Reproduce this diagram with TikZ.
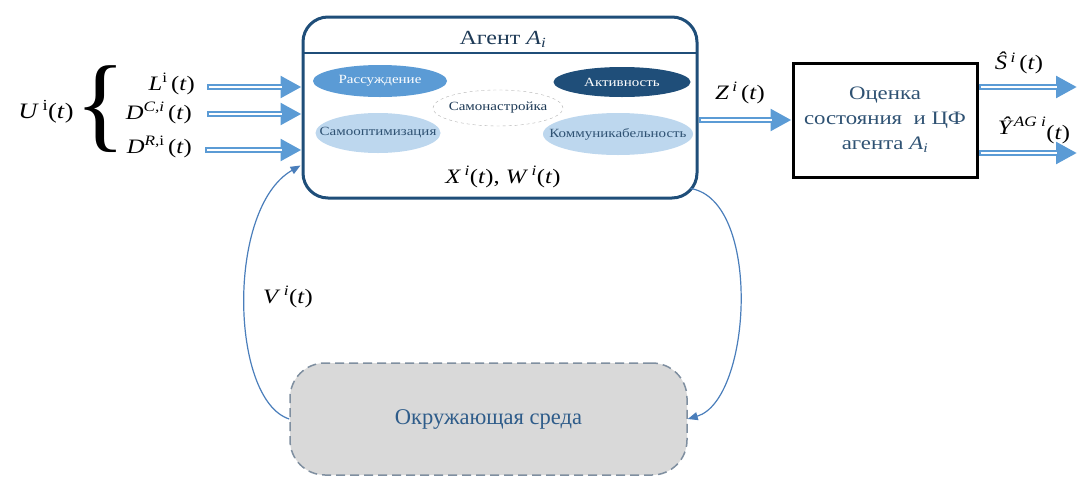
\documentclass[tikz,border=0pt]{standalone}
\usepackage{fontspec}
\setmainfont{Liberation Serif}
\newfontfamily\wideserif{Liberation Serif}[FakeStretch=1.2]
\usetikzlibrary{arrows.meta,decorations.pathreplacing,shapes.geometric,calc}
\definecolor{dkblue}{HTML}{1F4E79}
\definecolor{midblue}{HTML}{5B9BD5}
\definecolor{ltblue}{HTML}{BDD7EE}
\definecolor{arrblue}{HTML}{5B9BD5}
\definecolor{txtblue}{HTML}{2F5273}
\definecolor{hdtext}{HTML}{1F3B57}
\definecolor{envfill}{HTML}{D9D9D9}
\definecolor{envline}{HTML}{7F8FA0}
\definecolor{envtext}{HTML}{2E5C8A}
\definecolor{fbblue}{HTML}{4A7EBB}
\newcommand\dblarrow[2]{%
  \draw[dblout] (#1) -- (#2);
  \draw[dblin] (#1) -- (#2);}
\newcommand\mlabel{\wideserif\fontsize{20.5}{24}\selectfont}
\newcommand\ovtext[1]{\makebox[0pt]{#1}}
\begin{document}
\begin{tikzpicture}[x=1pt,y=-1pt,
  dblout/.style={draw=arrblue, line width=6.5pt, -{Triangle[length=21pt,width=21pt]}},
  dblin/.style={draw=white, line width=2.2pt, shorten >=20pt, shorten <=2.2pt},
  oval/.style={ellipse, inner sep=0pt, font=\wideserif\fontsize{12.5}{14}\selectfont},
  fb/.style={draw=fbblue, line width=1.2pt, -{Triangle[length=10pt,width=8pt]}},
  lbl/.style={inner sep=0pt, font=\mlabel}]
\useasboundingbox (0,0) rectangle (1090,488);

% agent box
\node[draw=dkblue, line width=3pt, rounded corners=25pt,
      minimum width=394pt, minimum height=181pt] (agent) at (500,107.5) {};
\draw[dkblue, line width=1.5pt] (303,53) -- (697,53);
\node[text=hdtext, font=\wideserif\fontsize{20}{22}\selectfont, inner sep=0pt] (title) at (503,39)
  {Агент \textit{A}\textsubscript{\textit{i}}};

% ellipses
\node[oval, fill=midblue, text=white, minimum width=134pt, minimum height=32pt] (rass) at (380,81) {\ovtext{Рассуждение}};
\node[oval, fill=dkblue, text=white, minimum width=137pt, minimum height=30pt] (akt) at (622,82) {\ovtext{Активность}};
\node[oval, draw=gray!60, dashed, fill=white, text=hdtext, minimum width=130pt, minimum height=36pt] (samon) at (498,108) {\ovtext{Самонастройка}};
\node[oval, fill=ltblue, text=txtblue, minimum width=125pt, minimum height=40pt] (samoopt) at (378,133) {\ovtext{Самооптимизация}};
\node[oval, fill=ltblue, text=txtblue, minimum width=150pt, minimum height=42pt] (komm) at (618,134) {\ovtext{Коммуникабельность}};

\node[lbl] (xw) at (503,177) {\textit{X}\,\textsuperscript{\textit{i}}(\textit{t}), \textit{W}\,\textsuperscript{\textit{i}}(\textit{t})};

% inputs
\node[lbl, anchor=east] (Lt) at (195,84) {\textit{L}\textsuperscript{i}\,(\textit{t})};
\node[lbl, anchor=east] (Dc) at (192,113) {\textit{D}\textsuperscript{\textit{C,i}}\,(\textit{t})};
\node[lbl, anchor=east] (Dr) at (192,147) {\textit{D}\textsuperscript{\textit{R,}i}\,(\textit{t})};
\node[lbl] (Ut) at (46,112) {\fontsize{22}{26}\selectfont\textit{U}\,\textsuperscript{i}(\textit{t})};
\node[inner sep=0pt, font=\fontsize{105}{105}\selectfont] (brace) at (101,109) {\makebox[18pt]{\{}};
\coordinate (inL) at (207,87);
\coordinate (inC) at (207,114);
\coordinate (inR) at (205,150);
\dblarrow{inL}{inL -| agent.west}
\dblarrow{inC}{inC -| agent.west}
\dblarrow{inR}{inR -| agent.west}

% evaluation box
\node[draw=black, line width=3pt, minimum width=184pt, minimum height=114pt,
      align=center, text=txtblue, font=\wideserif\fontsize{19}{25}\selectfont] (eval) at (885,120)
  {Оценка\\состояния\ \ и ЦФ\\агента \textit{A}\textsubscript{\textit{i}}};
\dblarrow{agent.east |- eval.west}{eval.west}
\node[lbl] (Zt) at (740,93) {\textit{Z}\,\textsuperscript{\textit{i}}\,(\textit{t})};

\coordinate (outS) at (1077,87);
\coordinate (outY) at (1077,153);
\dblarrow{outS -| eval.east}{outS}
\dblarrow{outY -| eval.east}{outY}
\node[lbl] (St) at (1019,63) {\textit{Ŝ}\,\textsuperscript{\textit{i}}\,(\textit{t})};
\node[lbl] (Yt) at (1034,130) {\textit{Ŷ}\textsuperscript{\textit{AG i}}\raisebox{-5pt}{(\textit{t})}};

% environment
\node[draw=envline, line width=1.5pt, dash pattern=on 9pt off 5pt, fill=envfill,
      rounded corners=35pt, minimum width=397pt, minimum height=112pt,
      text=envtext, font=\fontsize{22.5}{26}\selectfont] (env) at (488.5,419) {Окружающая среда};

% feedback
\coordinate (inV) at ($(agent.west)+(-1,58)$);
\coordinate (outW) at ($(agent.south east)+(-8,-11)$);
\draw[fb] (env.west) .. controls (230,400) and (226,208) .. (inV);
\draw[fb] (outW) .. controls (762,200) and (752,400) .. (env.east);
\node[lbl] (Vt) at (288,297) {\textit{V}\,\textsuperscript{\textit{i}}(\textit{t})};
\end{tikzpicture}
\end{document}
